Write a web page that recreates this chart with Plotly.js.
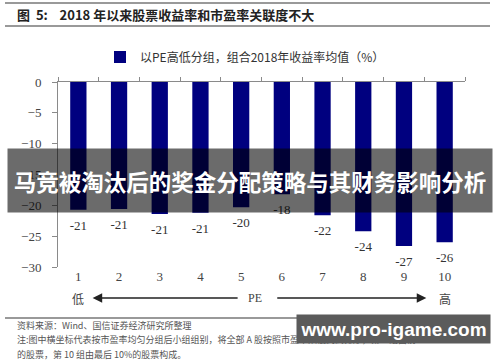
<!DOCTYPE html>
<html><head><meta charset="utf-8">
<script src="https://cdn.plot.ly/plotly-3.0.1.min.js"></script>
<style>html,body{margin:0;padding:0;background:#fff}#c{width:500px;height:362px}</style>
</head><body><div id="c"></div>
<script>
const groups = [1,2,3,4,5,6,7,8,9,10];
const groupLabels = ['1','2','3','4','5','6','7','8','9','10'];
const returns2018 = [-20.7,-20.6,-21.4,-21.2,-20.3,-18.2,-21.6,-24.2,-26.6,-26.0];
const seriesName = '以PE高低分组，组合2018年收益率均值（%）';
const chartTitle = '图  5:    2018 年以来股票收益率和市盈率关联度不大';
const bannerText = '马竞被淘汰后的奖金分配策略与其财务影响分析';
const sourceLines = ['资料来源：Wind、国信证券经济研究所整理',
  '注:图中横坐标代表按市盈率均匀分组后小组组别，将全部 A 股按照市盈率从低到高排序，第 1 组由前 10%',
  '的股票，第 10 组由最后 10%的股票构成。'];
const watermark = 'www.pro-igame.com';

// plot area pixel frame helpers (layout only)
const L=58, R=465, T=82, B=267;
const px = x => (x-L)/(R-L);
const py = y => (B-y)/(B-T);

const serif = 'Liberation Serif, DejaVu Serif, serif';
const cjk = 'Noto Sans CJK SC, sans-serif';

const data = [
  {type:'bar', x:groups, y:returns2018, name:seriesName, marker:{color:'#00007f'}, hoverinfo:'skip'},
  {type:'scatter', mode:'markers+text', x:groups, y:returns2018, showlegend:false, hoverinfo:'skip',
   marker:{size:15, opacity:0}, texttemplate:'%{y:.0f}', textposition:'bottom center', cliponaxis:false,
   textfont:{family:serif, size:13, color:'#333'}},
  {type:'scatter', x:[], y:[], xaxis:'x2', showlegend:false, hoverinfo:'skip'}
];

const layout = {
  width:500, height:362, margin:{l:L, r:500-R, t:T, b:362-B},
  paper_bgcolor:'#fff', plot_bgcolor:'#fff',
  bargap:0.6, showlegend:true,
  legend:{orientation:'h', x:px(100), xanchor:'left', y:py(57), yanchor:'middle',
          font:{family:cjk, size:12, color:'#333'}, itemwidth:30},
  xaxis:{range:[0.5,10.5], tickvals:groups, ticktext:groupLabels, showline:false, showgrid:false,
         zeroline:false, ticks:'', tickfont:{family:serif, size:13, color:'#444'}, fixedrange:true},
  xaxis2:{overlaying:'x', side:'top', range:[0.5,10.5], tickmode:'linear', tick0:0.5, dtick:1,
          showline:true, linecolor:'#8a8a8a', linewidth:1, ticks:'outside', ticklen:4, tickcolor:'#8a8a8a',
          showticklabels:false, showgrid:false, zeroline:false},
  yaxis:{range:[-30,0], dtick:5, showline:true, linecolor:'#8a8a8a', linewidth:1, ticks:'outside',
         ticklen:5, tickcolor:'#8a8a8a', showgrid:false, zeroline:false, ticklabelstandoff:8,
         tickfont:{family:serif, size:13, color:'#444'}},
  shapes:[
    {type:'line', xref:'paper', yref:'paper', x0:px(5), x1:px(490), y0:py(3), y1:py(3), line:{color:'#999', width:2}},
    {type:'line', xref:'paper', yref:'paper', x0:px(5), x1:px(490), y0:py(26), y1:py(26), line:{color:'#999', width:2}},
    {type:'line', xref:'paper', yref:'paper', x0:px(5), x1:px(490), y0:py(318), y1:py(318), line:{color:'#999', width:2}}
  ],
  annotations:[
    {xref:'paper', yref:'paper', x:px(15), y:py(15), xanchor:'left', yanchor:'middle', showarrow:false,
     text:'<b>'+chartTitle+'</b>', font:{family:cjk, size:13, color:'#222'}},
    {xref:'x', yref:'paper', x:1, y:py(298), yanchor:'middle', showarrow:false, text:'低', font:{family:cjk, size:12, color:'#444'}},
    {xref:'x', yref:'paper', x:10, y:py(298), yanchor:'middle', showarrow:false, text:'高', font:{family:cjk, size:12, color:'#444'}},
    {xref:'x', yref:'paper', x:5.35, y:py(298), yanchor:'middle', showarrow:false, text:'PE', font:{family:serif, size:12, color:'#444'}},
    {xref:'x', yref:'paper', x:1.35, y:py(298), axref:'x', ax:4.95, ayref:'pixel', ay:0, text:'', showarrow:true,
     arrowhead:2, arrowsize:1.2, arrowwidth:1.6, arrowcolor:'#222'},
    {xref:'x', yref:'paper', x:9.55, y:py(298), axref:'x', ax:5.85, ayref:'pixel', ay:0, text:'', showarrow:true,
     arrowhead:2, arrowsize:1.2, arrowwidth:1.6, arrowcolor:'#222'},
    {xref:'paper', yref:'paper', x:px(15), y:py(325), xanchor:'left', yanchor:'middle', showarrow:false,
     text:sourceLines[0], font:{family:cjk, size:9, color:'#555'}},
    {xref:'paper', yref:'paper', x:px(15), y:py(339), xanchor:'left', yanchor:'middle', showarrow:false,
     text:sourceLines[1], font:{family:cjk, size:9, color:'#555'}},
    {xref:'paper', yref:'paper', x:px(15), y:py(354), xanchor:'left', yanchor:'middle', showarrow:false,
     text:sourceLines[2], font:{family:cjk, size:9, color:'#555'}},
    {xref:'paper', yref:'paper', x:px(250), y:py(180.5), xanchor:'center', yanchor:'middle', showarrow:false,
     width:484, height:63, borderpad:0, bgcolor:'rgba(0,0,0,0.58)',
     text:'<b>'+bannerText+'</b>', font:{family:cjk, size:22.5, color:'#fff'}},
    {xref:'paper', yref:'paper', x:px(393.5), y:py(329), xanchor:'center', yanchor:'middle', showarrow:false,
     width:193, height:28, borderpad:0, bgcolor:'#5b5b5b',
     text:'<b>'+watermark+'</b>', font:{family:'Liberation Sans, Arial, sans-serif', size:19, color:'#fff'}}
  ]
};
Plotly.newPlot('c', data, layout, {staticPlot:true, displayModeBar:false});
</script></body></html>
